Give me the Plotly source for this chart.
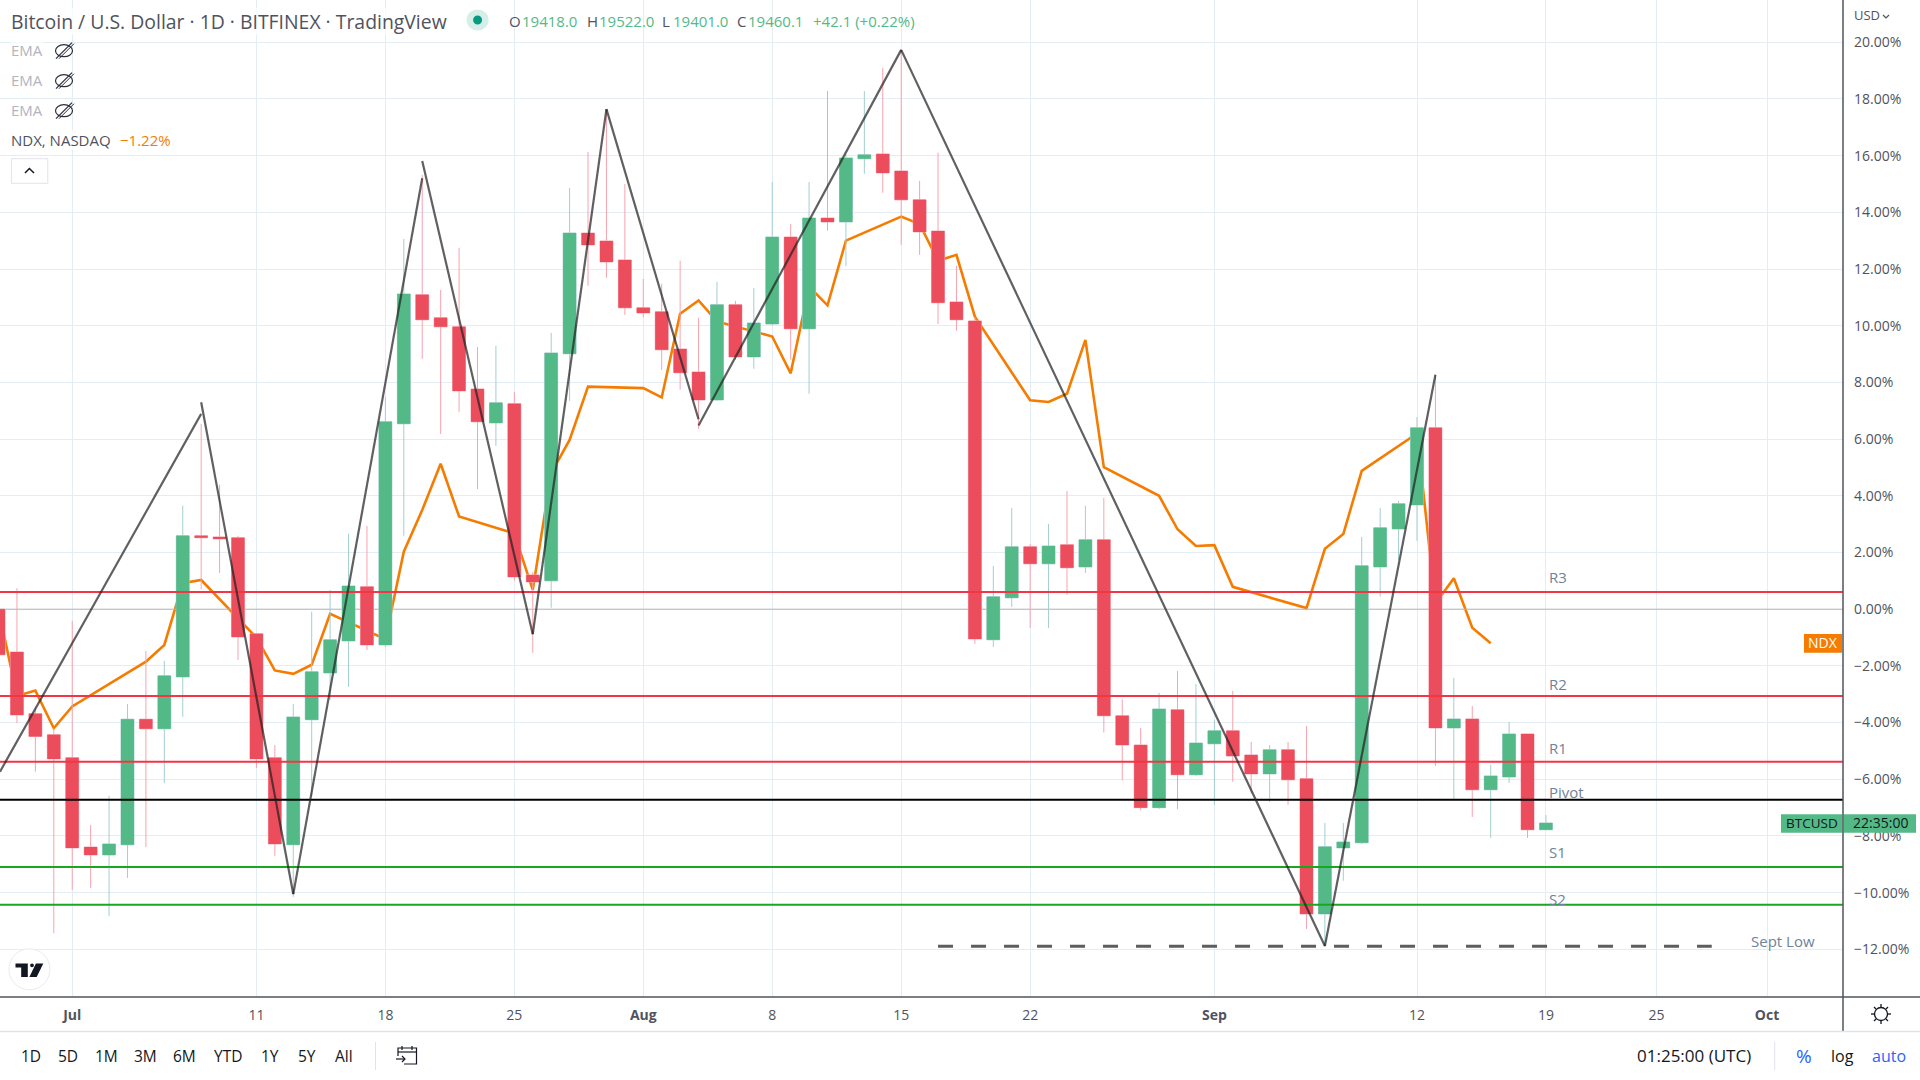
import pandas as pd
import plotly.graph_objects as go

# ---------- data (percent change) ----------
candle_start = "2022-06-27"
opens = [0.0,-1.51,-3.69,-4.43,-5.24,-8.39,-8.67,-8.31,-3.88,-4.22,-2.39,2.59,2.55,2.52,-0.87,-5.24,-8.31,-3.9,-2.25,-1.12,0.79,-1.26,6.54,11.09,10.28,9.96,7.77,6.57,7.25,1.21,1.0,9.01,13.27,12.99,12.32,10.63,10.49,9.18,8.37,7.38,10.74,8.9,10.06,13.13,9.89,13.8,13.66,15.89,16.06,15.46,14.44,13.34,10.84,10.17,-1.08,0.4,2.2,1.6,2.27,1.49,2.45,-3.76,-4.79,-7.0,-3.55,-5.84,-4.75,-4.29,-5.14,-5.81,-4.96,-5.98,-10.75,-8.42,-8.24,1.49,2.83,3.68,6.4,-4.19,-3.87,-6.37,-5.92,-4.4,-7.78]
closes = [-1.61,-3.73,-4.49,-5.28,-8.42,-8.67,-8.28,-3.88,-4.22,-2.35,2.59,2.52,2.48,-0.98,-5.28,-8.28,-3.8,-2.21,-1.08,0.82,-1.26,6.61,11.12,10.21,9.96,7.7,6.61,7.28,1.14,0.96,9.04,13.27,12.85,12.25,10.63,10.45,9.15,8.34,7.38,10.74,8.9,10.1,13.13,9.89,13.8,13.66,15.92,16.03,15.39,14.44,13.31,10.81,10.21,-1.05,0.44,2.2,1.6,2.23,1.46,2.45,-3.76,-4.79,-7.0,-3.52,-5.84,-4.72,-4.29,-5.18,-5.81,-4.96,-6.02,-10.75,-8.38,-8.21,1.53,2.87,3.72,6.4,-4.19,-3.87,-6.37,-5.88,-4.4,-7.78,-7.54]
highs = [0.3,0.74,-3.49,-4.2,-0.41,-7.61,-6.59,-3.34,-1.47,-1.82,3.65,6.54,4.39,2.59,-0.87,-4.79,-3.34,-0.09,0.68,2.66,2.94,7.5,13.06,15.32,11.26,12.75,9.25,9.29,7.67,1.3,9.75,14.86,16.13,17.6,15.0,11.65,11.48,12.29,10.28,11.55,10.88,11.33,15.07,13.59,15.07,18.28,16.05,18.28,19.1,19.73,15.11,16.1,12.11,10.3,1.53,3.57,2.3,3.01,4.17,3.65,3.93,-3.18,-4.19,-2.95,-2.18,-2.64,-3.9,-2.88,-4.68,-4.79,-4.68,-4.12,-7.54,-7.54,2.55,3.57,3.82,6.78,8.27,-2.42,-3.41,-5.49,-3.97,-4.4,-7.26]
lows = [-2.2,-4.02,-5.73,-11.43,-9.9,-9.83,-10.82,-9.48,-8.39,-6.13,-3.8,0.7,1.28,-1.79,-5.6,-8.7,-10.15,-6.6,-3.2,-2.74,-1.44,-1.34,2.59,8.83,6.18,6.96,4.24,5.76,1.0,-1.54,0.05,7.35,11.41,11.69,10.38,10.3,8.44,7.74,6.36,7.35,8.8,8.48,10.0,8.8,7.6,13.35,12.11,15.36,14.69,12.85,12.5,10.06,9.82,-1.22,-1.33,0.08,-0.66,-0.66,0.51,1.28,-4.35,-6.04,-7.1,-7.05,-7.05,-5.88,-6.9,-6.09,-6.5,-6.8,-6.9,-11.28,-11.9,-9.58,-8.28,0.44,1.74,2.41,-5.53,-6.69,-7.33,-8.07,-6.13,-8.07,-7.78]

ndx_dates = ["2022-06-27","2022-06-28","2022-06-29","2022-06-30","2022-07-01","2022-07-05","2022-07-06","2022-07-07","2022-07-08","2022-07-11","2022-07-12","2022-07-13","2022-07-14","2022-07-15","2022-07-18","2022-07-19","2022-07-20","2022-07-21","2022-07-22","2022-07-25","2022-07-26","2022-07-27","2022-07-28","2022-07-29","2022-08-01","2022-08-02","2022-08-03","2022-08-04","2022-08-05","2022-08-08","2022-08-09","2022-08-10","2022-08-11","2022-08-12","2022-08-15","2022-08-16","2022-08-17","2022-08-18","2022-08-19","2022-08-22","2022-08-23","2022-08-24","2022-08-25","2022-08-26","2022-08-29","2022-08-30","2022-08-31","2022-09-01","2022-09-02","2022-09-06","2022-09-07","2022-09-08","2022-09-09","2022-09-12","2022-09-13","2022-09-14","2022-09-15","2022-09-16"]
ndx_values = [0.0,-3.06,-2.87,-4.2,-3.43,-1.85,-1.26,0.92,1.03,-1.0,-2.16,-2.28,-1.96,-0.16,-1.06,2.03,3.5,5.13,3.27,2.67,0.68,4.8,5.97,7.85,7.8,7.47,10.42,10.89,10.15,9.62,8.32,11.38,10.72,13.0,13.85,13.59,12.29,12.5,10.32,7.37,7.31,7.6,9.5,5.01,4.0,2.82,2.23,2.26,0.79,0.04,2.13,2.65,4.88,6.2,0.2,1.09,-0.65,-1.2]

level_names = ["R3","R2","R1","Pivot","S1","S2"]
level_values = [0.61,-3.06,-5.38,-6.72,-9.09,-10.43]
level_colors = ["#f23645","#f23645","#f23645","#000000","#1aa71f","#1aa71f"]

sept_low_dates = ["2022-08-17","2022-09-28"]
sept_low_values = [-11.89,-11.89]

zigzag_segments = [
    (["2022-06-27 01:55","2022-07-08"],[-5.73,6.89]),
    (["2022-07-08","2022-07-13"],[7.30,-10.05]),
    (["2022-07-13","2022-07-20"],[-10.05,15.2]),
    (["2022-07-20","2022-07-26"],[15.81,-0.88]),
    (["2022-07-26","2022-07-30"],[-0.88,17.64]),
    (["2022-07-30","2022-08-04"],[17.64,6.7]),
    (["2022-08-04","2022-08-15"],[6.48,19.73]),
    (["2022-08-15","2022-09-07"],[19.73,-11.88]),
    (["2022-09-07","2022-09-13"],[-11.88,8.27]),
]

y_ticks = [20,18,16,14,12,10,8,6,4,2,0,-2,-4,-6,-8,-10,-12]
x_tick_dates = ["2022-07-01","2022-07-11","2022-07-18","2022-07-25","2022-08-01","2022-08-08","2022-08-15","2022-08-22","2022-09-01","2022-09-12","2022-09-19","2022-09-25","2022-10-01"]
x_tick_labels = ["<b>Jul</b>","11","18","25","<b>Aug</b>","8","15","22","<b>Sep</b>","12","19","25","<b>Oct</b>"]

range_buttons = ["1D","5D","1M","3M","6M","YTD","1Y","5Y","All"]
range_button_x = [30.6,67.8,106,145.3,184,227.8,270,307,344]

# ---------- style ----------
W, H, PW, PH = 1920, 1080, 1843, 997
UP, DOWN = "#53b987", "#eb4d5c"
UP_WICK, DOWN_WICK = "#a3cfcf", "#f7a3ae"
GRID = "#e4edf3"
TXT = "#50535e"
FONT = "Open Sans"
XRANGE = ["2022-06-27 01:55","2022-10-05 03:00"]
YRANGE = [-13.68,21.49]

def px(x): return x/PW
def py(y): return (PH-y)/PH

candle_dates = pd.date_range(candle_start, periods=len(opens)).strftime("%Y-%m-%d").tolist()

fig = go.Figure()

# NDX sits on the base axis so the candles draw over it
fig.add_trace(go.Scatter(x=ndx_dates, y=ndx_values, mode="lines", line=dict(color="#f57c00", width=2.6), yaxis="y", hoverinfo="skip", showlegend=False))
fig.add_trace(go.Scatter(x=XRANGE, y=[0,0], mode="lines", line=dict(color="#b2b5be", width=1), yaxis="y", hoverinfo="skip", showlegend=False))

# wicks
fig.add_trace(go.Candlestick(x=candle_dates, open=opens, high=highs, low=lows, close=closes, yaxis="y2",
    increasing=dict(line=dict(color=UP_WICK, width=1), fillcolor=UP),
    decreasing=dict(line=dict(color=DOWN_WICK, width=1), fillcolor=DOWN),
    whiskerwidth=0, hoverinfo="skip", showlegend=False))
# bodies
fig.add_trace(go.Candlestick(x=candle_dates, open=opens, high=highs, low=lows, close=closes, yaxis="y2",
    increasing=dict(line=dict(color=UP, width=0), fillcolor=UP),
    decreasing=dict(line=dict(color=DOWN, width=0), fillcolor=DOWN),
    whiskerwidth=0, hoverinfo="skip", showlegend=False))

for name, val, col in zip(level_names, level_values, level_colors):
    fig.add_trace(go.Scatter(x=XRANGE, y=[val,val], mode="lines", name=name, line=dict(color=col, width=2), yaxis="y2", hoverinfo="skip", showlegend=False))

fig.add_trace(go.Scatter(x=sept_low_dates, y=sept_low_values, mode="lines", line=dict(color="#5d5d5d", width=3, dash="15px,18px"), yaxis="y2", hoverinfo="skip", showlegend=False))

for xs, ys in zigzag_segments:
    fig.add_trace(go.Scatter(x=xs, y=ys, mode="lines", line=dict(color="rgba(35,35,35,0.72)", width=2.2), yaxis="y2", hoverinfo="skip", showlegend=False))

annotations = []
def text(x, y, s, size=15, color=TXT, anchor="left", bg=None, family=FONT):
    a = dict(xref="paper", yref="paper", x=px(x), y=py(y-1), text=s, showarrow=False, xanchor=anchor, yanchor="middle",
             font=dict(family=family, size=size, color=color), borderpad=0, borderwidth=0)
    if bg: a["bgcolor"] = bg
    annotations.append(a)

shapes = []
def sline(x0, y0, x1, y1, color, width=1):
    shapes.append(dict(type="line", xref="paper", yref="paper", x0=px(x0), y0=py(y0), x1=px(x1), y1=py(y1), line=dict(color=color, width=width), layer="above"))
def srect(x0, y0, x1, y1, fill, line=None, width=0):
    shapes.append(dict(type="rect", xref="paper", yref="paper", x0=px(x0), y0=py(y0), x1=px(x1), y1=py(y1), fillcolor=fill, line=dict(color=line or fill, width=width), layer="above"))
def scirc(cx, cy, rx, ry, fill, line=None, width=0):
    shapes.append(dict(type="circle", xref="paper", yref="paper", x0=px(cx-rx), y0=py(cy-ry), x1=px(cx+rx), y1=py(cy+ry), fillcolor=fill, line=dict(color=line or fill, width=width), layer="above"))
def spath(points, fill="rgba(0,0,0,0)", line=None, width=0, close=True):
    d = "M" + " L".join(f"{px(x):.5f},{py(y):.5f}" for x, y in points) + (" Z" if close else "")
    shapes.append(dict(type="path", xref="paper", yref="paper", path=d, fillcolor=fill, line=dict(color=line or "rgba(0,0,0,0)", width=width), layer="above"))

# header
text(11, 22.2, "Bitcoin / U.S. Dollar · 1D · BITFINEX · TradingView", size=19.4, bg="rgba(255,255,255,0.75)")
scirc(477.6, 20, 11, 10.5, "#d5eee8")
scirc(477.6, 20, 4.5, 4.5, "#089981")
for x, s in [(509,"O"),(586.5,"H"),(662.4,"L"),(737,"C")]:
    text(x, 22, s, size=15)
for x, s in [(522.4,"19418.0"),(598.8,"19522.0"),(672.6,"19401.0"),(748,"19460.1"),(812.7,"+42.1 (+0.22%)")]:
    text(x, 22, s, size=15, color=UP)

for y in [50.7,80.7,110.7]:
    text(11.4, y, "EMA", size=15, color="#b2b5be", bg="rgba(255,255,255,0.75)")
    scirc(64, y, 8.5, 6, "rgba(0,0,0,0)", "#2a2e39", 1.2)
    sline(56, y+8, 72, y-8, "#2a2e39", 1.2)
    sline(59, y+8, 74, y-7, "#2a2e39", 1)
text(11.4, 140.7, "NDX, NASDAQ", size=15, bg="rgba(255,255,255,0.75)")
text(120, 140.7, "\u22121.22%", size=15, color="#f57c00")
shapes.append(dict(type="rect", xref="paper", yref="paper", x0=px(11.4), y0=py(158.7), x1=px(47.8), y1=py(183.3), fillcolor="white", line=dict(color="#e0e3eb", width=1), layer="above"))
spath([(25,173),(29.4,168.5),(34,173)], line="#131722", width=1.5, close=False)

# level labels
for (y, s) in [(577.7,"R3"),(684.7,"R2"),(748.7,"R1"),(792.7,"Pivot"),(852.7,"S1"),(900.3,"S2")]:
    text(1549, y, s, size=15, color="#6f8398")
text(1750.6, 941.7, "Sept Low", size=15, color="#6f8398")

# tradingview badge
scirc(29.4, 969.3, 20.5, 20.5, "white", "#ebebed", 1)
spath([(15.5,963.5),(27.8,963.5),(27.8,977),(21.2,977),(21.2,967.5),(15.5,967.5)], fill="#131722")
scirc(32, 965.3, 1.9, 1.9, "#131722")
spath([(35.9,963.5),(43.3,963.5),(36.7,977),(29.4,977)], fill="#131722")

# price-scale tags
srect(1804, 634, 1842, 652.7, "#f57c00")
text(1823, 643.5, "NDX", size=14, color="white", anchor="center")
srect(1781, 814.3, 1842.4, 832.7, UP)
srect(1843.6, 814.3, 1916, 832.7, UP)
text(1811.6, 823.5, "BTCUSD", size=13.5, color="#131722", anchor="center")
text(1880, 823.5, "22:35:00", size=14, color="#131722", anchor="center")
text(1866.5, 16, "USD", size=13, color=TXT, anchor="center")
spath([(1883,15),(1886,18),(1889,15)], line=TXT, width=1.2, close=False)

# chrome lines
sline(PW, 0, PW, 1031, "#50535e", 1.5)
sline(0, PH, PW, PH, "#50535e", 1.5)
sline(PW, PH, 1920, PH, "#50535e", 1.5)
sline(0, 1031.5, 1920, 1031.5, "#e0e3eb", 1.5)

# settings glyph
scirc(1881, 1014, 6.5, 6.5, "white", "#131722", 1.3)
for (a, b, c, d) in [(1881,1004,1881,1007),(1881,1021,1881,1024),(1871,1014,1874,1014),(1888,1014,1891,1014),(1874,1007,1876,1009),(1886,1019,1888,1021),(1888,1007,1886,1009),(1876,1019,1874,1021)]:
    sline(a, b, c, d, "#131722", 1.3)

# bottom toolbar
for x, s in zip(range_button_x, range_buttons):
    text(x, 1056.5, s, size=15.5, color="#131722", anchor="center")
sline(375.5, 1042, 375.5, 1070, "#e0e3eb", 1)
sline(1774.7, 1042, 1774.7, 1070, "#e0e3eb", 1)
spath([(398,1056),(398,1048),(416.5,1048),(416.5,1064),(404,1064)], line="#131722", width=1.2, close=False)
sline(398, 1052, 416.5, 1052, "#131722", 1.2)
sline(402, 1046, 402, 1050, "#131722", 1.2)
sline(412, 1046, 412, 1050, "#131722", 1.2)
sline(396, 1059, 405, 1059, "#131722", 1.2)
spath([(402,1056),(405,1059),(402,1062)], line="#131722", width=1.2, close=False)
text(1694, 1056.5, "01:25:00 (UTC)", size=17, color="#131722", anchor="center")
text(1803.7, 1056.5, "%", size=19, color="#2962ff", anchor="center")
text(1842, 1056.5, "log", size=16, color="#131722", anchor="center")
text(1889, 1056.5, "auto", size=16, color="#2962ff", anchor="center")

fig.update_layout(
    width=W, height=H, autosize=False,
    margin=dict(l=0, r=W-PW, t=0, b=H-PH, pad=0),
    paper_bgcolor="white", plot_bgcolor="white",
    boxmode="overlay", boxgap=0, boxgroupgap=0.3,
    showlegend=False, hovermode=False,
    font=dict(family=FONT, size=14, color=TXT),
    xaxis=dict(type="date", range=XRANGE, rangeslider=dict(visible=False), tickmode="array",
               tickvals=x_tick_dates, ticktext=x_tick_labels, showgrid=True, gridcolor=GRID, gridwidth=1,
               zeroline=False, ticks="", tickfont=dict(family=FONT, size=14, color=TXT), showline=False, ticklabelstandoff=8),
    yaxis=dict(range=YRANGE, side="right", tickmode="array", tickvals=y_ticks,
               ticktext=[("\u2212" if v < 0 else "") + f"{abs(v):.2f}%" for v in y_ticks],
               showgrid=True, gridcolor=GRID, gridwidth=1, zeroline=False, ticks="",
               tickfont=dict(family=FONT, size=14, color=TXT), showline=False, ticklabelstandoff=10),
    yaxis2=dict(range=YRANGE, overlaying="y", side="right", showgrid=False, zeroline=False, showticklabels=False, ticks=""),
    annotations=annotations, shapes=shapes,
)

fig.write_html("out.html", config=dict(displayModeBar=False),
               post_script="document.body.style.margin='0';document.documentElement.style.overflow='hidden';")
